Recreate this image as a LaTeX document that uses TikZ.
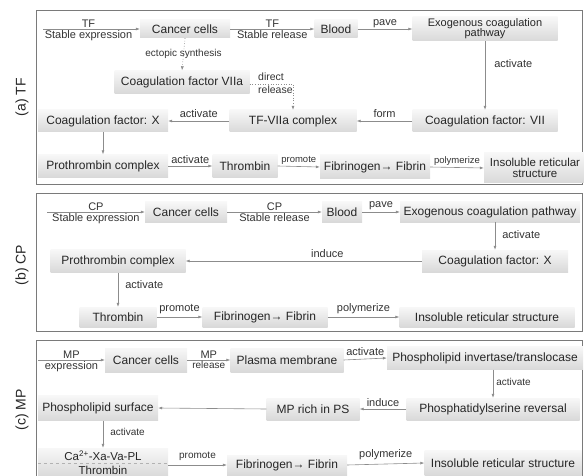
\documentclass[tikz,border=0pt]{standalone}
\usepackage{fontspec}
\setmainfont{Liberation Sans}
\usetikzlibrary{arrows.meta}
\newcommand{\fs}[1]{\fontsize{#1}{#1}\selectfont}
\definecolor{ln}{HTML}{8C8C8C}
\definecolor{fr}{HTML}{7A7A7A}
\begin{document}
\begin{tikzpicture}[x=1pt,y=-1pt,
  bx/.style={shade, top color=gray!6, bottom color=gray!30, inner sep=1pt, align=center, font=\fs{12}, text=black!85},
  arr/.style={draw=ln, line width=0.6pt, -{Latex[length=4pt,width=3pt]}},
  dotarr/.style={draw=ln, line width=0.6pt, dotted, -{Latex[length=4pt,width=3pt]}},
  lab/.style={font=\fs{11}, text=black!80, inner sep=1pt},
  slab/.style={font=\fs{10}, text=black!80, inner sep=1pt},
  frm/.style={draw=fr, line width=0.8pt},
  side/.style={rotate=90, font=\fs{14}, text=black!85}]
\useasboundingbox (0,0) rectangle (584,476);
\begin{scope}
\clip (0,0) rectangle (584,476);
% frames
\draw[frm] (36,10) rectangle (582,184);
\draw[frm] (36,193) rectangle (582,331);
\draw[frm] (36,340) rectangle (582,478);
\node[side] (la) at (22,97) {(a) TF};
\node[side] (lb) at (22,265) {(b) CP};
\node[side] (lc) at (22,410) {(c) MP};

% ---------- (a)
\node[bx, minimum width=90, minimum height=18] (a1) at (185,29) {Cancer cells};
\node[bx, minimum width=43, minimum height=18] (a2) at (336,29) {Blood};
\node[bx, minimum width=145, minimum height=24, font=\fs{11}] (a3) at (485,29) {Exogenous coagulation\\[-1pt]pathway};
\node[bx, minimum width=145, minimum height=22] (a4) at (485,121) {Coagulation factor: VII};
\node[bx, minimum width=127, minimum height=22] (a5) at (293,121) {TF-VIIa complex};
\node[bx, minimum width=130, minimum height=22] (a6) at (103,121) {Coagulation factor: X};
\node[bx, minimum width=130, minimum height=23] (a7) at (103,166) {Prothrombin complex};
\node[bx, minimum width=65, minimum height=23] (a8) at (245,166) {Thrombin};
\node[bx, minimum width=110, minimum height=24] (a9) at (375,167) {Fibrinogen→ Fibrin};
\node[bx, minimum width=102, minimum height=30, font=\fs{11.5}] (a10) at (535,168) {Insoluble reticular\\[-1pt]structure};
\node[bx, minimum width=135, minimum height=23] (a11) at (182,82) {Coagulation factor VIIa};

\coordinate (as) at (43,29);
\draw[arr] (as) -- node[lab, above, pos=0.47] {TF} node[lab, below, pos=0.47] {Stable expression} (a1.west);
\draw[arr] (a1.east) -- node[lab, above] {TF} node[lab, below] {Stable release} (a2.west);
\draw[arr] (a2.east) -- node[lab, above] {pave} (a3.west);
\draw[arr] (a3.south) -- node[lab, right=8pt, pos=0.33] {activate} (a4.north);
\draw[arr] (a4.west) -- node[lab, above=2pt] {form} (a5.east);
\draw[arr] (a5.west) -- node[lab, above=2pt] {activate} (a6.east);
\draw[arr] (a6.south) -- (a7.north);
\draw[arr] (a7.east) -- node[lab, above=1pt] {activate} (a8.west);
\draw[arr] (a8.east) -- node[slab, above=1pt, font=\fs{9.5}] {promote} (a9.west);
\draw[arr] (a9.east) -- node[slab, above=1pt, font=\fs{9.5}] {polymerize} (a10.west);
\draw[dotarr] (a1.south) -- node[slab, pos=0.5] {ectopic synthesis} (a11.north);
\coordinate (ac) at (293,84);
\draw[dotarr] (a11.east |- ac) -- (ac) -- (a5.north);
\node[slab, anchor=west, font=\fs{10.5}] (ad1) at (257,77) {direct};
\node[slab, anchor=west, font=\fs{10.5}] (ad2) at (257,90) {release};

% ---------- (b)
\node[bx, minimum width=82, minimum height=20] (b1) at (186,212) {Cancer cells};
\node[bx, minimum width=40, minimum height=20] (b2) at (342,212) {Blood};
\node[bx, minimum width=180, minimum height=20] (b3) at (490,212) {Exogenous coagulation pathway};
\node[bx, minimum width=146, minimum height=22] (b4) at (495,261) {Coagulation factor: X};
\node[bx, minimum width=135, minimum height=23] (b5) at (118,261) {Prothrombin complex};
\node[bx, minimum width=77, minimum height=20] (b6) at (118,317) {Thrombin};
\node[bx, minimum width=125, minimum height=20] (b7) at (265,317) {Fibrinogen→ Fibrin};
\node[bx, minimum width=175, minimum height=20] (b8) at (487,317) {Insoluble reticular structure};

\coordinate (bs) at (47,212);
\draw[arr] (bs) -- node[lab, above] {CP} node[lab, below] {Stable expression} (b1.west);
\draw[arr] (b1.east) -- node[lab, above] {CP} node[lab, below] {Stable release} (b2.west);
\draw[arr] (b2.east) -- node[lab, above=1pt] {pave} (b3.west);
\draw[arr] (b3.south -| b4) -- node[lab, right=6pt, pos=0.45] {activate} (b4.north);
\draw[arr] (b4.west) -- node[lab, above=2pt, pos=0.4] {induce} (b5.east);
\draw[arr] (b5.south) -- node[lab, right=6pt, pos=0.35] {activate} (b6.north);
\draw[arr] (b6.east) -- node[lab, above=2pt] {promote} (b7.west);
\draw[arr] (b7.east) -- node[lab, above=2pt] {polymerize} (b8.west);

% ---------- (c)
\node[bx, minimum width=82, minimum height=24] (c1) at (146,360) {Cancer cells};
\node[bx, minimum width=113, minimum height=24] (c2) at (287,360) {Plasma membrane};
\node[bx, minimum width=196, minimum height=23] (c3) at (485,358) {Phospholipid invertase/translocase};
\node[bx, minimum width=173, minimum height=22] (c4) at (493,409) {Phosphatidylserine reversal};
\node[bx, minimum width=93, minimum height=22] (c5) at (313,409) {MP rich in PS};
\node[bx, minimum width=120, minimum height=25] (c6) at (98,408) {Phospholipid surface};
\node[bx, minimum width=130, minimum height=29, font=\fs{11.5}] (c7) at (103,462.5) {Ca\textsuperscript{2+}-Xa-Va-PL\\[2pt]Thrombin};
\draw[dashed, draw=gray!60, line width=0.6pt] (c7.west |- 0,463) -- (c7.east |- 0,463);
\node[bx, minimum width=120, minimum height=20] (c8) at (287,465) {Fibrinogen→ Fibrin};
\node[bx, minimum width=157, minimum height=25] (c9) at (503,463) {Insoluble reticular structure};

\coordinate (cs) at (38,360);
\draw[arr] (cs) -- node[lab, above] {MP} node[lab, below] {expression} (c1.west);
\draw[arr] (c1.east) -- node[lab, above] {MP} node[slab, below] {release} (c2.west);
\draw[arr] (c2.east) -- node[lab, above=2pt] {activate} (c3.west);
\draw[arr] (c3.south -| c4) -- node[slab, right=2pt, pos=0.45] {activate} (c4.north);
\draw[arr] (c4.west) -- node[lab, above=1pt] {induce} (c5.east);
\draw[arr] (c5.west) -- (c6.east);
\draw[arr] (c6.south -| c7) -- node[slab, right=6pt, pos=0.4] {activate} (c7.north);
\draw[arr] (c7.east |- c8) -- node[slab, above=3pt] {promote} (c8.west);
\draw[arr] (c8.east) -- node[lab, above=3pt] {polymerize} (c9.west);
\end{scope}
\end{tikzpicture}
\end{document}
